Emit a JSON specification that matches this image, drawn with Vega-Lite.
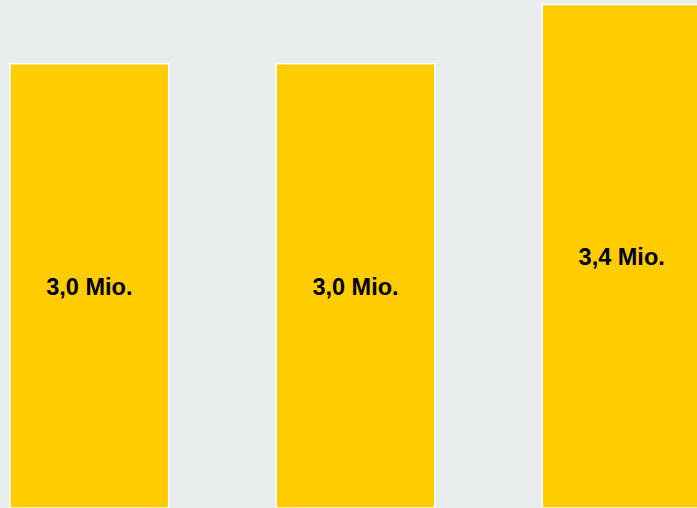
{
  "$schema": "https://vega.github.io/schema/vega-lite/v6.json",
  "width": 697,
  "height": 508,
  "autosize": {"type": "none"},
  "padding": 0,
  "background": "#e9edee",
  "config": {"view": {"stroke": null, "fill": "#e9edee"}},
  "data": {"values": [
    {"kategorie": "A", "wert": 3.0, "label": "3,0 Mio."},
    {"kategorie": "B", "wert": 3.0, "label": "3,0 Mio."},
    {"kategorie": "C", "wert": 3.4, "label": "3,4 Mio."}
  ]},
  "transform": [{"calculate": "datum.wert / 2", "as": "mitte"}],
  "encoding": {
    "x": {"field": "kategorie", "type": "nominal", "sort": null, "axis": null,
          "scale": {"range": [0, 711], "paddingInner": 0.404, "paddingOuter": 0.0376}}
  },
  "layer": [
    {
      "mark": {"type": "bar", "fill": "#ffcc00", "stroke": "#ffffff", "strokeWidth": 1.5},
      "encoding": {
        "y": {"field": "wert", "type": "quantitative", "axis": null, "scale": {"domain": [0, 3.43], "nice": false}}
      }
    },
    {
      "mark": {"type": "text", "font": "Liberation Sans", "fontWeight": "bold", "fontSize": 23.5, "color": "#000000", "baseline": "middle", "align": "center", "dy": 2},
      "encoding": {
        "y": {"field": "mitte", "type": "quantitative", "axis": null, "scale": {"domain": [0, 3.43], "nice": false}},
        "text": {"field": "label"}
      }
    }
  ]
}
